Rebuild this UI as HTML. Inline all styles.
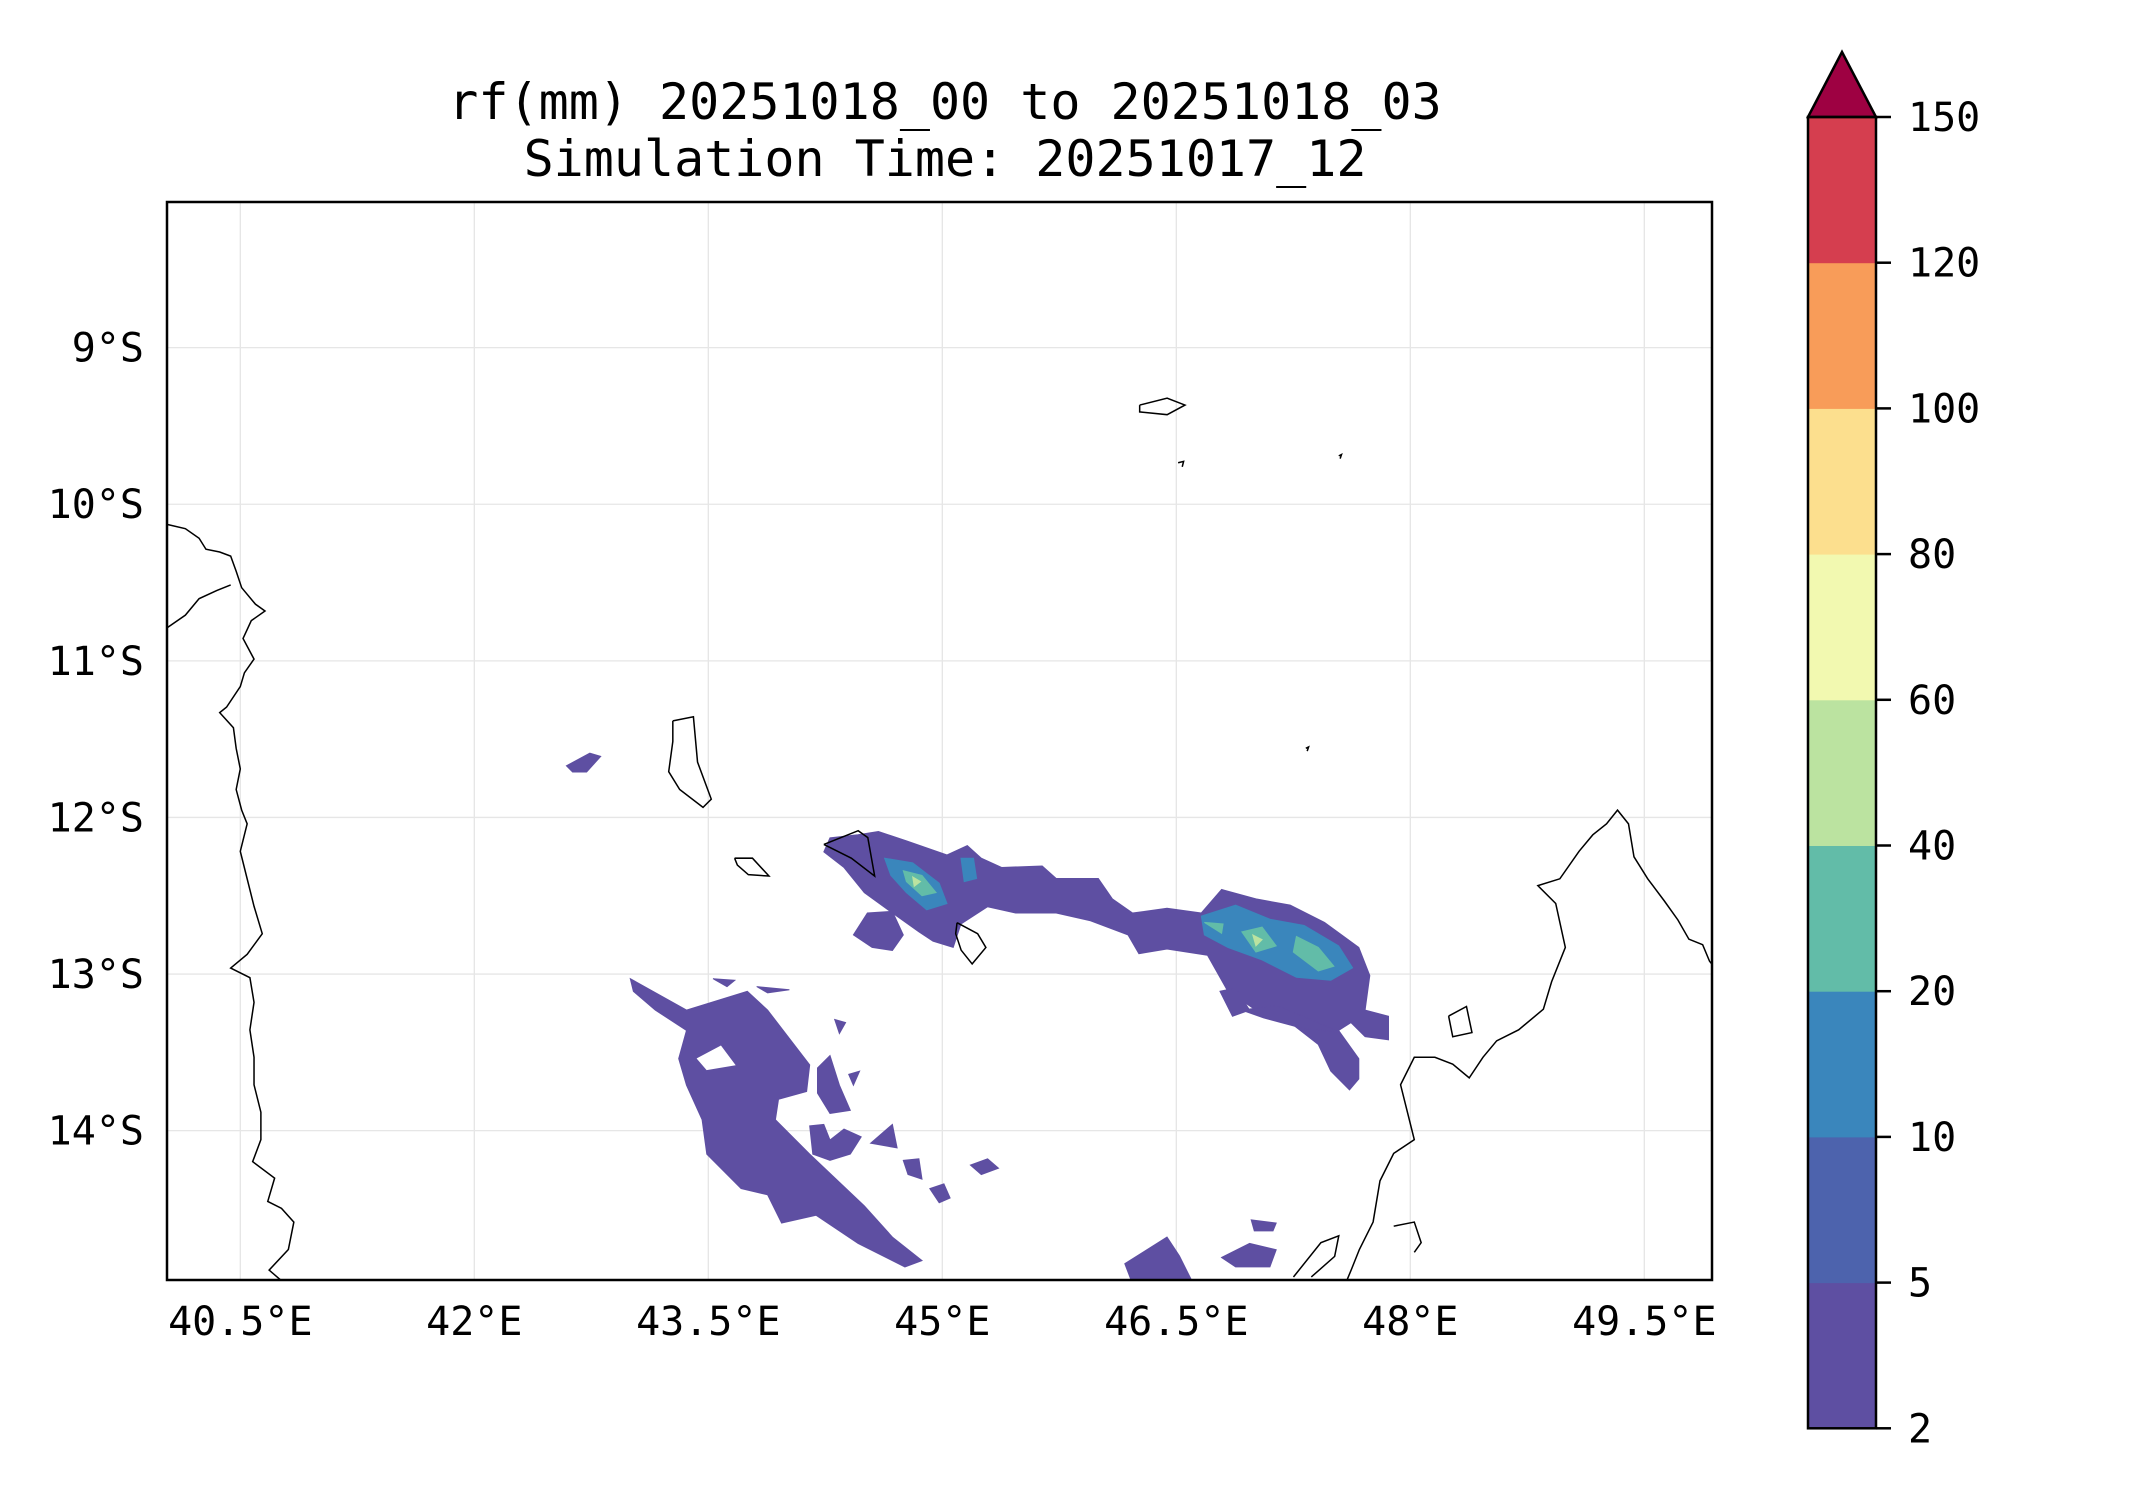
<!DOCTYPE html>
<html><head><meta charset="utf-8"><style>
html,body{margin:0;padding:0;background:#fff;}
svg{display:block;font-family:"DejaVu Sans Mono","Liberation Mono",monospace;}
</style></head><body>
<svg id="chart" width="2142" height="1500" viewBox="0 0 2142 1500" xmlns="http://www.w3.org/2000/svg">
<text x="945" y="119" font-size="50" text-anchor="middle">rf(mm) 20251018_00 to 20251018_03</text>
<text x="945" y="176" font-size="50" text-anchor="middle">Simulation Time: 20251017_12</text>
<defs><clipPath id="plotclip"><rect x="167" y="202" width="1545" height="1078"/></clipPath></defs>
<g id="grid"></g>
<g id="rain" clip-path="url(#plotclip)"></g>
<g clip-path="url(#plotclip)">
<g id="coast" transform="scale(1.3731)" fill="none" stroke="#000" stroke-width="1.1"></g>
</g>
<rect x="167" y="202" width="1545" height="1078" fill="none" stroke="#000" stroke-width="2.5"/>
<g id="xticks"></g>
<g id="yticks"></g>
<g id="cbar"></g>
</svg>
<script>
const lonTicks=[40.5,42,43.5,45,46.5,48,49.5];
const lonLabels=["40.5°E","42°E","43.5°E","45°E","46.5°E","48°E","49.5°E"];
const latTicks=[9,10,11,12,13,14];
const latLabels=["9°S","10°S","11°S","12°S","13°S","14°S"];
const levels=[2,5,10,20,40,60,80,100,120,150];
const levelColors=["#5e4fa2","#4d63ad","#3a86bc","#62bca8","#bbe3a0","#f2f9b0","#fcdf8e","#f89c59","#d53e4f"];
const extendColor="#9e0142";
const rainLow=[
[[43.0,13.03],[43.36,13.23],[43.75,13.11],[43.88,13.23],[44.15,13.58],[44.13,13.75],[43.95,13.8],[43.93,13.93],[44.15,14.15],[44.5,14.48],[44.68,14.68],[44.87,14.83],[44.76,14.87],[44.46,14.72],[44.19,14.54],[43.97,14.59],[43.88,14.41],[43.71,14.37],[43.49,14.15],[43.46,13.93],[43.36,13.71],[43.31,13.54],[43.36,13.36],[43.16,13.23],[43.02,13.11]],
[[44.24,12.22],[44.28,12.13],[44.46,12.11],[44.59,12.09],[44.77,12.15],[45.03,12.24],[45.16,12.18],[45.25,12.26],[45.38,12.32],[45.64,12.31],[45.73,12.39],[46.0,12.39],[46.09,12.52],[46.22,12.61],[46.44,12.58],[46.66,12.61],[46.79,12.46],[47.01,12.52],[47.23,12.56],[47.45,12.67],[47.67,12.83],[47.74,13.01],[47.71,13.23],[47.86,13.27],[47.86,13.42],[47.71,13.4],[47.62,13.31],[47.54,13.36],[47.67,13.54],[47.67,13.67],[47.61,13.74],[47.49,13.62],[47.41,13.45],[47.23,13.31],[47.01,13.23],[46.83,13.11],[46.7,12.88],[46.44,12.84],[46.26,12.87],[46.19,12.75],[45.95,12.66],[45.73,12.61],[45.47,12.61],[45.29,12.57],[45.12,12.68],[45.07,12.83],[44.94,12.79],[44.85,12.73],[44.68,12.61],[44.5,12.48],[44.37,12.32]],
[[42.59,11.67],[42.74,11.59],[42.81,11.61],[42.72,11.71],[42.63,11.71]],
[[44.43,12.75],[44.52,12.61],[44.68,12.6],[44.75,12.75],[44.68,12.85],[44.55,12.83]],
[[46.78,13.11],[46.88,13.09],[46.97,13.23],[46.86,13.27]],
[[46.92,13.23],[47.14,13.2],[47.41,13.31],[47.54,13.37],[47.32,13.35],[47.06,13.28]],
[[44.2,13.6],[44.28,13.52],[44.34,13.71],[44.41,13.87],[44.28,13.89],[44.2,13.76]],
[[44.15,13.97],[44.24,13.96],[44.28,14.06],[44.37,13.99],[44.48,14.04],[44.41,14.15],[44.28,14.19],[44.17,14.15]],
[[46.17,14.85],[46.44,14.68],[46.52,14.8],[46.61,14.98],[46.22,14.98]],
[[46.79,14.81],[46.97,14.72],[47.14,14.76],[47.1,14.87],[46.88,14.87]],
[[45.18,14.22],[45.29,14.18],[45.36,14.24],[45.25,14.28]],
[[44.92,14.37],[45.01,14.34],[45.05,14.43],[44.98,14.46]],
[[43.53,13.03],[43.67,13.04],[43.62,13.08]],
[[43.81,13.08],[44.02,13.1],[43.88,13.12]],
[[44.31,13.29],[44.38,13.31],[44.34,13.38]],
[[44.4,13.64],[44.47,13.62],[44.43,13.71]],
[[44.54,14.08],[44.68,13.96],[44.71,14.11]],
[[44.75,14.19],[44.85,14.18],[44.87,14.31],[44.78,14.28]],
[[46.98,14.57],[47.14,14.59],[47.12,14.64],[47.0,14.64]]
];
const rainHoles=[[[43.43,13.54],[43.58,13.46],[43.67,13.58],[43.49,13.61]]];
const rainMid=[
[[44.63,12.26],[44.81,12.29],[44.98,12.42],[45.03,12.55],[44.9,12.59],[44.77,12.48],[44.67,12.37]],
[[45.12,12.26],[45.2,12.26],[45.22,12.39],[45.14,12.41]],
[[46.66,12.63],[46.88,12.56],[47.1,12.65],[47.32,12.69],[47.54,12.82],[47.63,12.96],[47.49,13.04],[47.27,13.02],[47.05,12.91],[46.83,12.83],[46.68,12.75]]
];
const rainHigh=[
[[44.75,12.34],[44.87,12.37],[44.96,12.48],[44.87,12.5],[44.77,12.41]],
[[46.68,12.67],[46.8,12.68],[46.79,12.74]],
[[46.92,12.73],[47.05,12.7],[47.14,12.82],[47.01,12.86]],
[[47.27,12.76],[47.41,12.83],[47.51,12.95],[47.41,12.98],[47.25,12.86]]
];
const rainPeak=[
[[44.81,12.38],[44.86,12.41],[44.82,12.44]],
[[46.99,12.75],[47.05,12.78],[47.01,12.82]]
];
const NS="http://www.w3.org/2000/svg";
const X=lon=>167+(lon-40.03)*156;
const Y=lat=>202+(lat-8.07)*156.6;
function mk(tag,attrs,parent){const e=document.createElementNS(NS,tag);for(const k in attrs)e.setAttribute(k,attrs[k]);parent.appendChild(e);return e;}
const grid=document.getElementById('grid');
lonTicks.forEach(v=>{const l=mk('line',{x1:X(v),x2:X(v),y1:202,y2:1280,stroke:'#e6e6e6','stroke-width':1.3},grid);

});
latTicks.forEach(v=>{const l=mk('line',{x1:167,x2:1712,y1:Y(v),y2:Y(v),stroke:'#e6e6e6','stroke-width':1.3},grid);

});
const xt=document.getElementById('xticks');
lonTicks.forEach((v,i)=>{const t=mk('text',{x:X(v),y:1335,'font-size':40,'text-anchor':'middle'},xt);t.textContent=lonLabels[i];

});
const yt=document.getElementById('yticks');
latTicks.forEach((v,i)=>{const t=mk('text',{x:144,y:Y(v)+14,'font-size':40,'text-anchor':'end'},yt);t.textContent=latLabels[i];

});
const rain=document.getElementById('rain');
const pts=p=>p.map(q=>X(q[0]).toFixed(1)+','+Y(q[1]).toFixed(1)).join(' ');
function drawSet(set,color,name){set.forEach(p=>{const e=mk('polygon',{points:pts(p),fill:color,stroke:color,'stroke-width':1},rain);

});}
drawSet(rainLow,levelColors[0],'rain-2-5mm');
drawSet(rainHoles,'#ffffff','rain-gap');
drawSet(rainMid,levelColors[2],'rain-10-20mm');
drawSet(rainHigh,levelColors[3],'rain-20-40mm');
drawSet(rainPeak,levelColors[4],'rain-40-60mm');
const coastLines=[
"122,382 135,385 145,392 150,400 160,402 168,405 172,416 176,428 186,440 193,445 183,452 177,465 185,480 178,490 175,500 165,515 160,519 170,530 172,545 175,560 172,575 176,590 180,600 175,620 180,640 185,660 191,680 180,695 168,705 182,712 185,730 182,750 185,770 185,790 190,810 190,830 184,846 200,858 195,875 205,880 214,890 210,910 196,925 210,937",
"122,457 135,448 145,436 158,430 168,426",
"1253,710 1245,700 1240,688 1230,684 1222,670 1212,656 1200,640 1190,624 1186,600 1178,590 1170,600 1160,608 1150,620 1136,640 1120,645 1133,658 1140,690 1130,715 1124,735 1106,750 1090,758 1080,770 1070,785 1058,775 1045,770 1030,770 1020,790 1025,810 1030,830 1015,840 1005,860 1000,890 990,910 984,925 979,937",
"490,525 505,522 508,555 518,582 512,588 495,575 487,562 490,540 490,525",
"535,625 548,625 560,638 545,637 537,630 535,625",
"600,615 625,605 632,610 637,638 620,625 600,615",
"697,672 712,680 718,690 708,702 700,692 696,680 697,672",
"830,295 850,290 863,295 850,302 830,300 830,295",
"1055,740 1068,733 1072,752 1058,755 1055,740",
"942,930 962,905 975,900 972,915 955,930",
"1015,893 1030,890 1035,905 1030,912",
"858,337 862,336 861,340",
"975,332 977,331 976,334",
"951,545 953,544 952,547"
];
const coast=document.getElementById('coast');
coastLines.forEach(s=>{const e=mk('polyline',{points:s},coast);

});
const cb=document.getElementById('cbar');
const cbX=1808,cbW=68,cbTop=117,cbBand=145.7;
const CY=i=>cbTop+(levels.length-1-i)*cbBand;
for(let i=0;i<levelColors.length;i++){const r=mk('rect',{x:cbX,y:CY(i+1),width:cbW,height:cbBand+0.5,fill:levelColors[i]},cb);

}
const tri=mk('polygon',{points:`${cbX},${cbTop} ${cbX+cbW/2},52 ${cbX+cbW},${cbTop}`,fill:extendColor,stroke:'#000','stroke-width':2.5},cb);


const fr=mk('rect',{x:cbX,y:cbTop,width:cbW,height:CY(0)-cbTop,fill:'none',stroke:'#000','stroke-width':2.5},cb);


levels.forEach((v,i)=>{const l=mk('line',{x1:cbX+cbW,x2:cbX+cbW+15,y1:CY(i),y2:CY(i),stroke:'#000','stroke-width':2.5},cb);


const t=mk('text',{x:1908,y:CY(i)+14,'font-size':40},cb);t.textContent=v;

});
</script>
</body></html>
